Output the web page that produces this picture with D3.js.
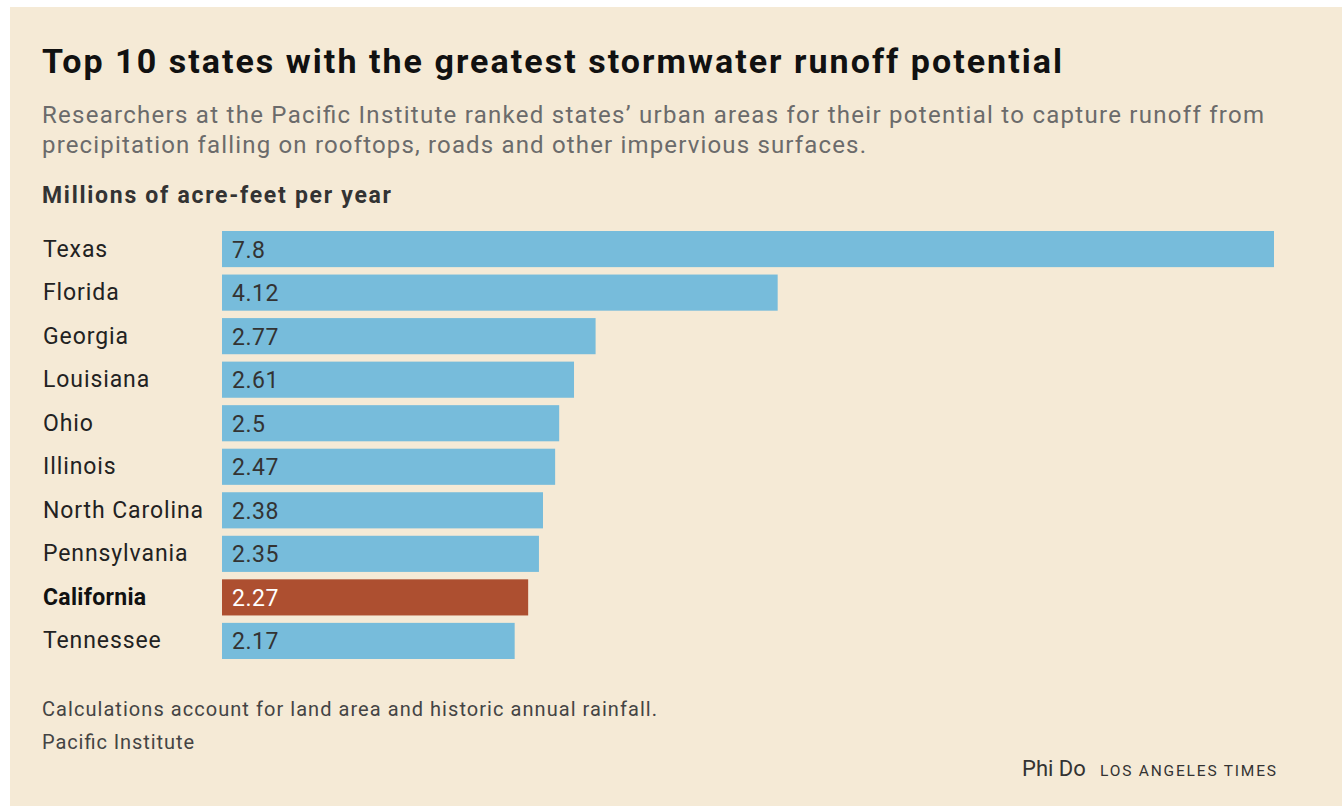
<!DOCTYPE html>
<meta charset="utf-8">
<head>
    <script src="https://d3js.org/d3.v7.min.js"></script>
    <style>
    body { margin: 0; background: #fff; }
    text { font-family: Roboto, "Liberation Sans", sans-serif; }
    </style>
</head>
<body>
    <script>
    var states = ["Texas", "Florida", "Georgia", "Louisiana", "Ohio", "Illinois",
                  "North Carolina", "Pennsylvania", "California", "Tennessee"];
    var runoff = [7.8, 4.12, 2.77, 2.61, 2.5, 2.47, 2.38, 2.35, 2.27, 2.17];
    var highlight = "California";

    var W = 1342, H = 806;
    var svg = d3.select("body").append("svg")
        .attr("width", W)
        .attr("height", H);

    // cream panel
    svg.append("rect")
        .attr("x", 10).attr("y", 7)
        .attr("width", W - 10).attr("height", H - 7)
        .attr("fill", "#f5ead6");

    // little helper: text stretched to the width it has in the original
    function label(x, y, size, weight, color, len, str) {
        return svg.append("text")
            .attr("x", x).attr("y", y)
            .style("font-size", size + "px")
            .style("font-weight", weight)
            .attr("fill", color)
            .attr("textLength", len)
            .attr("lengthAdjust", "spacing")
            .text(str);
    }

    // headings
    label(42, 73, 34, "bold", "#111", 1020,
        "Top 10 states with the greatest stormwater runoff potential");
    label(42, 123, 24, "normal", "#6b6b6b", 1222,
        "Researchers at the Pacific Institute ranked states\u2019 urban areas for their potential to capture runoff from");
    label(42, 153, 24, "normal", "#6b6b6b", 824,
        "precipitation falling on rooftops, roads and other impervious surfaces.");
    label(42, 203, 23, "bold", "#333", 349, "Millions of acre-feet per year");

    // scales
    var x = d3.scaleLinear()
        .domain([0, d3.max(runoff)])
        .range([222, 1274]);
    var y = d3.scaleBand()
        .domain(states)
        .range([231, 659])
        .paddingInner(0.17)
        .paddingOuter(0);

    var rows = svg.selectAll(".row")
        .data(states)
        .enter().append("g")
        .attr("class", "row");

    rows.append("rect")
        .attr("x", x(0))
        .attr("y", function(d) { return y(d); })
        .attr("width", function(d, i) { return x(runoff[i]) - x(0); })
        .attr("height", y.bandwidth())
        .attr("fill", function(d) { return d === highlight ? "#ad4f30" : "#77bcdb"; });

    // state names
    rows.append("text")
        .attr("x", 43)
        .attr("y", function(d) { return y(d) + y.bandwidth() / 2 + 7.5; })
        .style("font-size", "23px")
        .style("letter-spacing", function(d) { return d === highlight ? "0.3px" : "0.9px"; })
        .style("font-weight", function(d) { return d === highlight ? "bold" : "normal"; })
        .attr("fill", function(d) { return d === highlight ? "#111" : "#222"; })
        .text(function(d) { return d; });

    // values inside bars
    rows.append("text")
        .attr("x", x(0) + 10)
        .attr("y", function(d) { return y(d) + y.bandwidth() / 2 + 8.5; })
        .style("font-size", "23px")
        .style("letter-spacing", "0.5px")
        .attr("fill", function(d) { return d === highlight ? "#fff" : "#333"; })
        .text(function(d, i) { return runoff[i]; });

    // notes
    label(42, 716, 20, "normal", "#444", 615,
        "Calculations account for land area and historic annual rainfall.");
    label(42, 749, 20, "normal", "#444", 152, "Pacific Institute");

    // credit
    svg.append("text")
        .attr("x", 1022).attr("y", 776)
        .style("font-size", "22px")
        .attr("fill", "#333")
        .text("Phi Do");
    label(1100, 776, 15.5, "normal", "#333", 176, "LOS ANGELES TIMES");
    </script>
</body>
</html>
